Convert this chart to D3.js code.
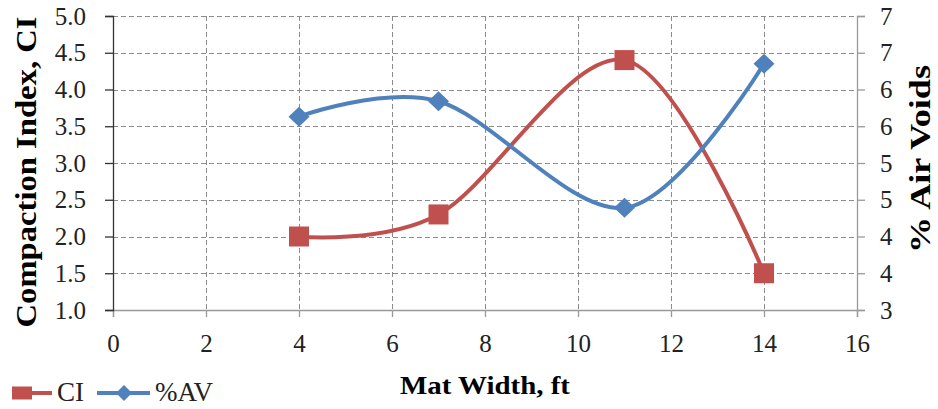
<!DOCTYPE html>
<html><head><meta charset="utf-8">
<script src="https://cdn.jsdelivr.net/npm/d3@7"></script>
<style>html,body{margin:0;padding:0;background:#fff;overflow:hidden}
svg text{font-family:'Liberation Serif','Times New Roman',serif}</style>
</head><body>
<svg id="chart" width="938" height="409"></svg>
<script>
const matWidth = [4, 7, 11, 14];
const ciValues = [2.0, 2.3, 4.4, 1.5];
const avValues = [5.63, 5.84, 4.39, 6.35];
const xTicks = [0, 2, 4, 6, 8, 10, 12, 14, 16];
const leftTicks = [1.0, 1.5, 2.0, 2.5, 3.0, 3.5, 4.0, 4.5, 5.0];
const rightTicks = [3.0, 3.5, 4.0, 4.5, 5.0, 5.5, 6.0, 6.5, 7.0];
const rightTickLabels = ["3", "4", "4", "5", "5", "6", "6", "7", "7"];
const seriesNames = ["CI", "%AV"];

const red = "#C0504D", blue = "#4F81BD";
const L = 113, R = 857, T = 16, B = 310;
const svg = d3.select("#chart");
const font = "'Liberation Serif','Times New Roman',serif";

const x = d3.scaleLinear().domain([0, 16]).range([L, R]);
const yL = d3.scaleLinear().domain([1, 5]).range([B, T]);
const yR = d3.scaleLinear().domain([3, 7]).range([B, T]);

// gridlines
const grid = svg.append("g").attr("stroke", "#8c8c8c").attr("stroke-width", 1).attr("stroke-dasharray", "5,3");
grid.selectAll("line.h").data(leftTicks.filter(d => d > 1)).join("line")
  .attr("x1", L).attr("x2", R).attr("y1", d => Math.round(yL(d)) + 0.5).attr("y2", d => Math.round(yL(d)) + 0.5);
grid.selectAll("line.v").data(xTicks.filter(d => d > 0 && d < 16)).join("line")
  .attr("y1", T).attr("y2", B).attr("x1", d => Math.round(x(d)) + 0.5).attr("x2", d => Math.round(x(d)) + 0.5);

function styleAxis(g, color) {
  g.attr("font-family", font);
  g.selectAll("path.domain").attr("stroke", color).attr("stroke-width", 1.3);
  g.selectAll(".tick line").attr("stroke", color).attr("stroke-width", 1.3);
  g.selectAll("text").attr("font-family", font).attr("font-size", 25).attr("fill", "#222");
}

// x axis
const gx = svg.append("g").attr("transform", `translate(0,${B})`)
  .call(d3.axisBottom(x).tickValues(xTicks).tickFormat(d3.format("d")).tickSize(7).tickSizeOuter(7).tickPadding(17));
styleAxis(gx, "#999");

// left axis
const gl = svg.append("g").attr("transform", `translate(${L},0)`)
  .call(d3.axisLeft(yL).tickValues(leftTicks).tickFormat(d3.format(".1f")).tickSize(8).tickSizeOuter(8).tickPadding(19));
styleAxis(gl, "#333");

// right axis
const gr = svg.append("g").attr("transform", `translate(${R},0)`)
  .call(d3.axisRight(yR).tickValues(rightTicks).tickFormat((d, i) => rightTickLabels[i]).tickSize(8).tickSizeOuter(8).tickPadding(15));
styleAxis(gr, "#999");

// series
const curve = d3.curveCardinal.tension(0);
const ciData = matWidth.map((d, i) => [d, ciValues[i]]);
const avData = matWidth.map((d, i) => [d, avValues[i]]);

svg.append("path").datum(ciData).attr("fill", "none").attr("stroke", red).attr("stroke-width", 4)
  .attr("d", d3.line().x(d => x(d[0])).y(d => yL(d[1])).curve(curve));
svg.append("path").datum(avData).attr("fill", "none").attr("stroke", blue).attr("stroke-width", 4)
  .attr("d", d3.line().x(d => x(d[0])).y(d => yR(d[1])).curve(curve));

svg.selectAll("rect.ci").data(ciData).join("rect").attr("class", "ci")
  .attr("x", d => x(d[0]) - 10).attr("y", d => yL(d[1]) - 10).attr("width", 20).attr("height", 20)
  .attr("fill", red);
svg.selectAll("path.av").data(avData).join("path").attr("class", "av")
  .attr("d", d => { const cx = x(d[0]), cy = yR(d[1]); return `M${cx},${cy-10}L${cx+10.5},${cy}L${cx},${cy+10}L${cx-10.5},${cy}Z`; })
  .attr("fill", blue);

// axis titles
svg.append("text").attr("transform", "translate(36,172) rotate(-90)")
  .attr("text-anchor", "middle").attr("font-family", font).attr("font-weight", "bold").attr("font-size", 30)
  .attr("textLength", 311).attr("lengthAdjust", "spacingAndGlyphs").text("Compaction Index, CI");
svg.append("text").attr("transform", "translate(930,159) rotate(-90)")
  .attr("text-anchor", "middle").attr("font-family", font).attr("font-weight", "bold").attr("font-size", 30)
  .attr("textLength", 188).attr("lengthAdjust", "spacingAndGlyphs").text("% Air Voids");
svg.append("text").attr("x", 485).attr("y", 394)
  .attr("text-anchor", "middle").attr("font-family", font).attr("font-weight", "bold").attr("font-size", 25)
  .attr("textLength", 170).attr("lengthAdjust", "spacingAndGlyphs").text("Mat Width, ft");

// legend
const ly = 393;
svg.append("line").attr("x1", 12).attr("x2", 52).attr("y1", ly).attr("y2", ly).attr("stroke", red).attr("stroke-width", 4);
svg.append("rect").attr("x", 12).attr("y", ly - 6.5).attr("width", 20).attr("height", 13).attr("fill", red);
svg.append("text").attr("x", 57).attr("y", 401).attr("font-family", font).attr("font-size", 27).attr("fill", "#222").text(seriesNames[0]);
svg.append("line").attr("x1", 97).attr("x2", 150).attr("y1", ly).attr("y2", ly).attr("stroke", blue).attr("stroke-width", 4);
svg.append("path").attr("d", `M124,${ly-8}L132,${ly}L124,${ly+8}L116,${ly}Z`).attr("fill", blue);
svg.append("text").attr("x", 155).attr("y", 401).attr("font-family", font).attr("font-size", 27).attr("fill", "#222").text(seriesNames[1]);
</script>
</body></html>
